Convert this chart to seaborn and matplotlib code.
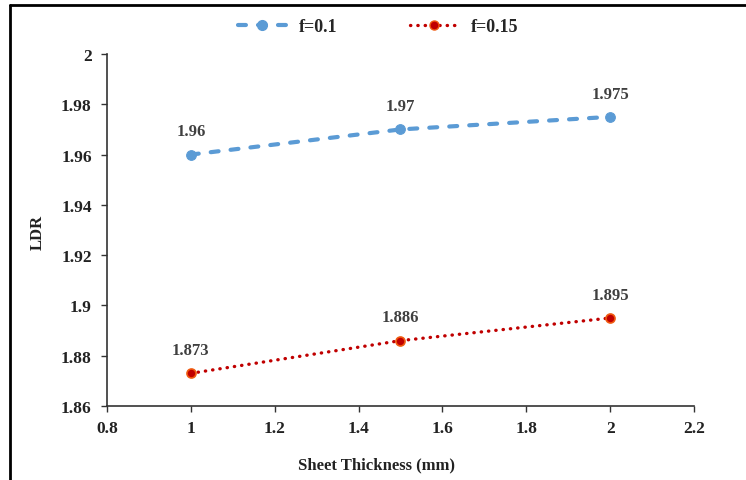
import matplotlib
matplotlib.use("Agg")
import matplotlib.pyplot as plt
from matplotlib.lines import Line2D
import seaborn as sns
import pandas as pd

thickness = [1.0, 1.5, 2.0]
ldr_f010 = [1.96, 1.97, 1.975]
ldr_f015 = [1.873, 1.886, 1.895]
label_f010 = ["1.96", "1.97", "1.975"]
label_f015 = ["1.873", "1.886", "1.895"]
series_names = ["f=0.1", "f=0.15"]
x_ticks = [0.8, 1.0, 1.2, 1.4, 1.6, 1.8, 2.0, 2.2]
x_tick_labels = ["0.8", "1", "1.2", "1.4", "1.6", "1.8", "2", "2.2"]
y_ticks = [1.86, 1.88, 1.90, 1.92, 1.94, 1.96, 1.98, 2.00]
y_tick_labels = ["1.86", "1.88", "1.9", "1.92", "1.94", "1.96", "1.98", "2"]

sns.set_theme(style="ticks")
plt.rcParams["font.family"] = ["Liberation Serif", "DejaVu Serif"]

df1 = pd.DataFrame({"t": thickness, "ldr": ldr_f010})
df2 = pd.DataFrame({"t": thickness, "ldr": ldr_f015})

blue = "#5B9BD5"
red = "#C00000"
orange = "#F05A10"
blue_dash = [1.9, 2.9]
red_dot = [0.1, 2.1]

fig = plt.figure(figsize=(7.46, 4.81), dpi=100)
ax = fig.add_axes([107 / 746, 1 - 407 / 481, (694 - 107) / 746, (407 - 55) / 481])

sns.lineplot(data=df1, x="t", y="ldr", ax=ax, color=blue, linewidth=3.0,
             marker="o", markersize=7, markeredgecolor=blue, markerfacecolor=blue)
ax.lines[-1].set_dashes(blue_dash)
ax.lines[-1].set_dash_capstyle("round")

sns.lineplot(data=df2, x="t", y="ldr", ax=ax, color=red, linewidth=2.4,
             marker="o", markersize=6.5, markeredgecolor=orange, markerfacecolor=red,
             markeredgewidth=1.2)
ax.lines[-1].set_dashes(red_dot)
ax.lines[-1].set_dash_capstyle("round")

lab_kw = dict(ha="center", va="bottom", fontsize=12, fontweight="bold", color="#404040",
              textcoords="offset points", xytext=(0, 11))
for x, y, s in zip(thickness, ldr_f010, label_f010):
    ax.annotate(s, (x, y), **lab_kw)
for x, y, s in zip(thickness, ldr_f015, label_f015):
    ax.annotate(s, (x, y), **lab_kw)

ax.set_xlim(0.8, 2.2)
ax.set_ylim(1.86, 2.0)
ax.set_xticks(x_ticks)
ax.set_xticklabels(x_tick_labels)
ax.set_yticks(y_ticks)
ax.set_yticklabels(y_tick_labels)
ax.tick_params(axis="both", direction="out", length=4, width=1, color="#333333",
               labelsize=12.5, labelcolor="#222222")
ax.tick_params(axis="x", pad=6)
ax.tick_params(axis="y", pad=7)
for lbl in ax.get_xticklabels() + ax.get_yticklabels():
    lbl.set_fontweight("bold")

ax.spines["top"].set_visible(False)
ax.spines["right"].set_visible(False)
for sp in ("left", "bottom"):
    ax.spines[sp].set_color("#333333")
    ax.spines[sp].set_linewidth(1.2)

ax.set_xlabel("Sheet Thickness (mm)", fontsize=12, fontweight="bold", color="#222222")
ax.xaxis.set_label_coords(377 / 746, 1 - 465 / 481, transform=fig.transFigure)
ax.xaxis.label.set_va("center")
ax.set_ylabel("LDR", fontsize=12, fontweight="bold", color="#222222")
ax.yaxis.set_label_coords(38 / 746, 1 - 232 / 481, transform=fig.transFigure)
ax.yaxis.label.set_va("center")

h1 = Line2D([], [], color=blue, linewidth=3.0, marker="o", markersize=7,
            dashes=blue_dash, dash_capstyle="round")
h2 = Line2D([], [], color=red, linewidth=2.4, marker="o", markersize=6.5,
            markerfacecolor=red, markeredgecolor=orange, dashes=red_dot,
            dash_capstyle="round")
fig.legend([h1, h2], series_names, loc="center", bbox_to_anchor=(378 / 746, 1 - 28 / 481),
           ncol=2, frameon=False, handlelength=2.7, handletextpad=0.7, columnspacing=4.0,
           prop={"weight": "bold", "size": 13})

# outer frame lines along the left and top edges
fig.add_artist(Line2D([10 / 746, 10 / 746], [0, 1 - 6 / 481], transform=fig.transFigure,
                      color="black", linewidth=2))
fig.add_artist(Line2D([10 / 746, 1], [1 - 6 / 481, 1 - 6 / 481], transform=fig.transFigure,
                      color="black", linewidth=2))

fig.savefig("out.png", dpi=100, facecolor="white")
